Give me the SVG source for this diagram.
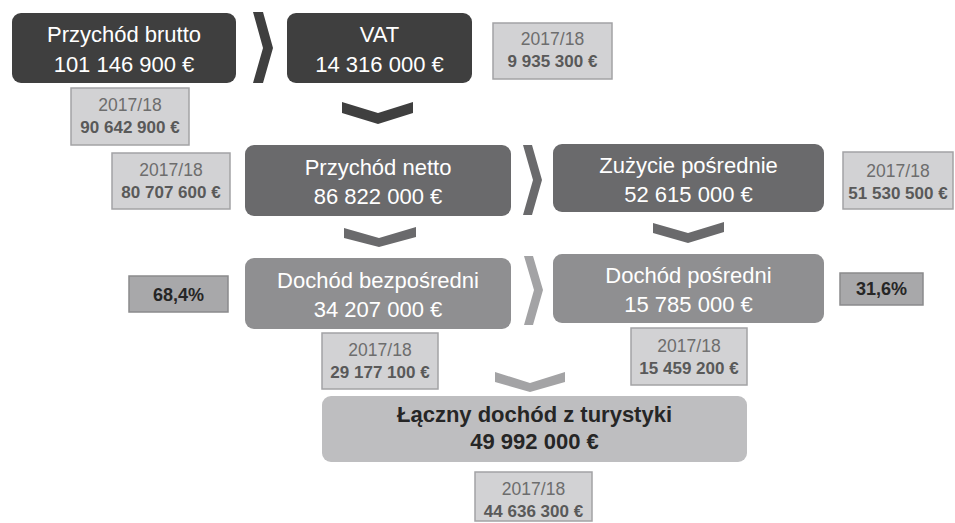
<svg xmlns="http://www.w3.org/2000/svg" width="955" height="523" viewBox="0 0 955 523">
  <style>
    .node-text { font-family: "Liberation Sans", Arial, sans-serif; font-size: 22px; fill: #ffffff; text-anchor: middle; }
    .total-text { font-family: "Liberation Sans", Arial, sans-serif; font-size: 22px; font-weight: bold; fill: #262626; text-anchor: middle; }
    .tag { fill: #d2d2d4; stroke: #a3a3a5; stroke-width: 1.5; }
    .tag-year { font-family: "Liberation Sans", Arial, sans-serif; font-size: 17.5px; fill: #6d6d6d; text-anchor: middle; }
    .tag-value { font-family: "Liberation Sans", Arial, sans-serif; font-size: 17px; font-weight: bold; fill: #595959; text-anchor: middle; }
    .pct { fill: #a8a8aa; stroke: #8a8a8c; stroke-width: 1.5; }
    .pct-text { font-family: "Liberation Sans", Arial, sans-serif; font-size: 18px; font-weight: bold; fill: #262626; text-anchor: middle; }
    .dark { fill: #3f3f3f; }
    .mid { fill: #6a6a6c; }
    .light { fill: #8f8f91; }
    .pale { fill: #a3a3a5; }
    .total { fill: #bebec0; }
  </style>

  <!-- chevron connectors -->
  <g id="connectors">
    <polygon class="dark" points="253,12 263,12 273,48 263,83 253,83 263,48"/>
    <polygon class="dark" points="342,102 378,113 413,102 413,113 378,124 342,113"/>
    <polygon class="mid" points="523,145 532,145 542,180 532,215 523,215 533,180"/>
    <polygon class="mid" points="344,228 379,238 416,227 416,237 379,247 344,238"/>
    <polygon class="mid" points="653,223 688,233 724,222 724,232 688,243 653,233"/>
    <polygon class="pale" points="524,256 533,256 543,290 533,325 524,325 534,290"/>
    <polygon class="pale" points="495,372 530,383 565,372 565,382 530,392 495,382"/>
  </g>

  <!-- main nodes -->
  <g id="gross-revenue">
    <rect class="dark" x="12" y="13" width="224" height="70" rx="9"/>
    <text class="node-text" x="124" y="42">Przychód brutto</text>
    <text class="node-text" x="124" y="72">101 146 900 €</text>
  </g>
  <g id="vat">
    <rect class="dark" x="287" y="13" width="185" height="70" rx="9"/>
    <text class="node-text" x="379.5" y="42">VAT</text>
    <text class="node-text" x="379.5" y="72">14 316 000 €</text>
  </g>
  <g id="net-revenue">
    <rect class="mid" x="245" y="145" width="266" height="71" rx="9"/>
    <text class="node-text" x="378" y="175">Przychód netto</text>
    <text class="node-text" x="378" y="204">86 822 000 €</text>
  </g>
  <g id="intermediate-consumption">
    <rect class="mid" x="553" y="144" width="271" height="68" rx="9"/>
    <text class="node-text" x="688.5" y="173">Zużycie pośrednie</text>
    <text class="node-text" x="688.5" y="202">52 615 000 €</text>
  </g>
  <g id="direct-income">
    <rect class="light" x="245" y="258" width="266" height="71" rx="9"/>
    <text class="node-text" x="378" y="288">Dochód bezpośredni</text>
    <text class="node-text" x="378" y="317">34 207 000 €</text>
  </g>
  <g id="indirect-income">
    <rect class="light" x="553" y="254" width="271" height="69" rx="9"/>
    <text class="node-text" x="688.5" y="283">Dochód pośredni</text>
    <text class="node-text" x="688.5" y="312">15 785 000 €</text>
  </g>
  <g id="total-income">
    <rect class="total" x="322" y="396" width="425" height="66" rx="9"/>
    <text class="total-text" x="534.5" y="422">Łączny dochód z turystyki</text>
    <text class="total-text" x="534.5" y="449">49 992 000 €</text>
  </g>

  <!-- previous-year tags -->
  <g id="tag-gross">
    <rect class="tag" x="71" y="88" width="118" height="57"/>
    <text class="tag-year" x="130" y="111">2017/18</text>
    <text class="tag-value" x="130" y="133">90 642 900 €</text>
  </g>
  <g id="tag-vat">
    <rect class="tag" x="493" y="23" width="119" height="56"/>
    <text class="tag-year" x="552.5" y="45">2017/18</text>
    <text class="tag-value" x="552.5" y="67">9 935 300 €</text>
  </g>
  <g id="tag-net">
    <rect class="tag" x="112" y="153" width="118" height="56"/>
    <text class="tag-year" x="171" y="176">2017/18</text>
    <text class="tag-value" x="171" y="198">80 707 600 €</text>
  </g>
  <g id="tag-intermediate">
    <rect class="tag" x="843" y="152" width="110" height="57"/>
    <text class="tag-year" x="898" y="177">2017/18</text>
    <text class="tag-value" x="898" y="199">51 530 500 €</text>
  </g>
  <g id="tag-direct">
    <rect class="tag" x="322" y="333" width="116" height="56"/>
    <text class="tag-year" x="380" y="356">2017/18</text>
    <text class="tag-value" x="380" y="378">29 177 100 €</text>
  </g>
  <g id="tag-indirect">
    <rect class="tag" x="631" y="328" width="116" height="57"/>
    <text class="tag-year" x="689" y="352">2017/18</text>
    <text class="tag-value" x="689" y="374">15 459 200 €</text>
  </g>
  <g id="tag-total">
    <rect class="tag" x="475" y="472" width="117" height="49"/>
    <text class="tag-year" x="533.5" y="495">2017/18</text>
    <text class="tag-value" x="533.5" y="517">44 636 300 €</text>
  </g>

  <!-- shares -->
  <g id="share-direct">
    <rect class="pct" x="129" y="276" width="99" height="36"/>
    <text class="pct-text" x="178.5" y="301">68,4%</text>
  </g>
  <g id="share-indirect">
    <rect class="pct" x="840" y="273" width="83" height="32"/>
    <text class="pct-text" x="881.5" y="295">31,6%</text>
  </g>
</svg>
